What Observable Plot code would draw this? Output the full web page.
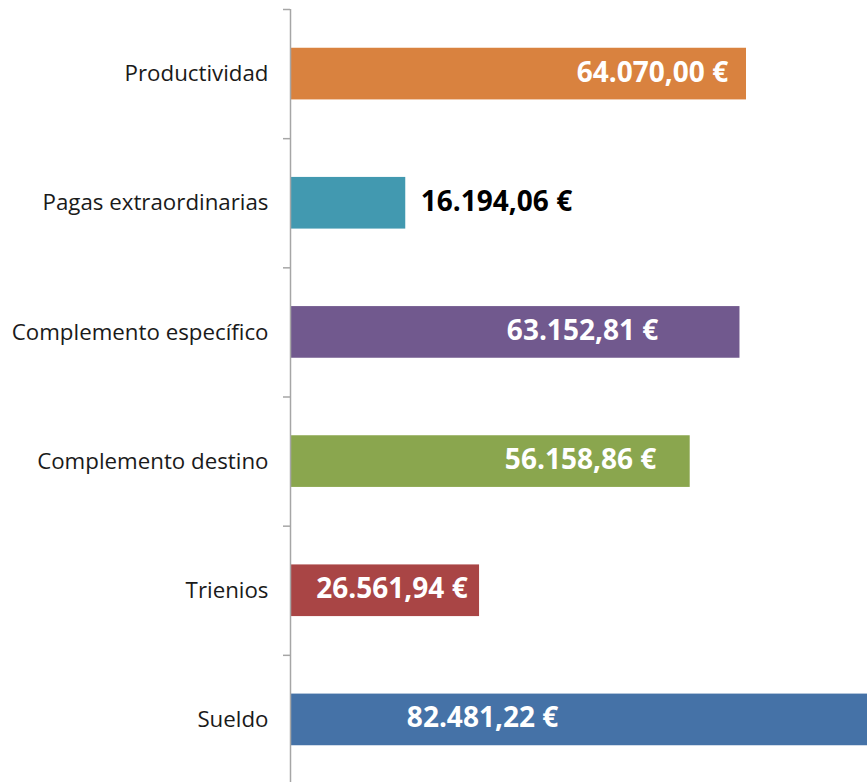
<!DOCTYPE html>
<html>
<head>
<meta charset="utf-8">
<script src="https://cdn.jsdelivr.net/npm/d3@7"></script>
<script src="https://cdn.jsdelivr.net/npm/@observablehq/plot@0.6"></script>
<style>
  html, body { margin: 0; padding: 0; background: #fff; overflow: hidden; }
</style>
</head>
<body>
<div id="chart"></div>
<script>
// Categories top to bottom
const categories = ["Productividad", "Pagas extraordinarias", "Complemento específico", "Complemento destino", "Trienios", "Sueldo"];
const values = [64070.00, 16194.06, 63152.81, 56158.86, 26561.94, 82481.22];
const colors = ["#D9823F", "#4299B0", "#71598E", "#8AA64E", "#A94545", "#4572A7"];
// where each value label sits (data units, label centre)
const labelAt = [50860, 28940, 41030, 40750, 14260, 26980];
const labelColors = ["#ffffff", "#000000", "#ffffff", "#ffffff", "#ffffff", "#ffffff"];

const fmt = v => v.toLocaleString("de-DE", {minimumFractionDigits: 2, maximumFractionDigits: 2}) + " €";

const data = categories.map((c, i) => ({
  cat: c, i, value: values[i], color: colors[i],
  lx: labelAt[i], lc: labelColors[i], label: fmt(values[i])
}));

const font = "'Open Sans', Lato, sans-serif";

const chart = Plot.plot({
  width: 867,
  height: 785,
  marginLeft: 290,
  marginRight: 0,
  marginTop: 9,
  marginBottom: 1,
  style: {fontFamily: font, background: "#fff", overflow: "hidden"},
  x: {domain: [0, 81070], axis: null},
  y: {domain: [0, 6], axis: null, reverse: true},
  marks: [
    Plot.rectX(data, {
      x1: 0, x2: "value",
      y1: d => d.i + 0.3, y2: d => d.i + 0.7,
      fill: "color", clip: true
    }),
    Plot.ruleX([0], {stroke: "#a6a6a6", strokeWidth: 1.5}),
    Plot.axisY({
      ticks: d3.range(0, 7), tickSize: 7, tickFormat: () => "",
      stroke: "#a6a6a6", strokeWidth: 1.5, strokeOpacity: 1
    }),
    Plot.axisY({
      ticks: d3.range(0, 6).map(i => i + 0.5), tickSize: 0, tickPadding: 22,
      tickFormat: t => categories[Math.floor(t)],
      fontSize: 22.3, fill: "#1a1a1a"
    }),
    Plot.text(data, {
      x: "lx", y: d => d.i + 0.5, dy: -1.5, text: "label",
      fill: "lc", fontSize: 28, fontWeight: "bold", textAnchor: "middle"
    })
  ]
});

document.getElementById("chart").appendChild(chart);
</script>
</body>
</html>
